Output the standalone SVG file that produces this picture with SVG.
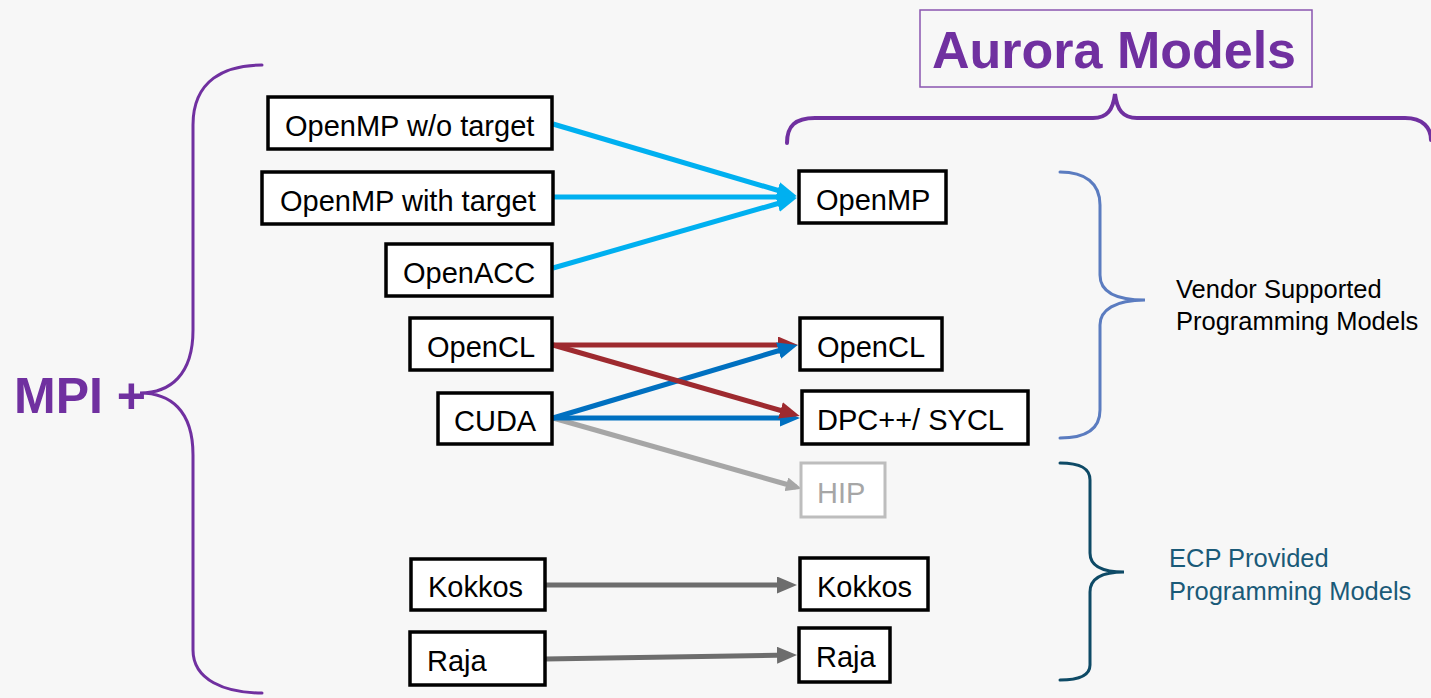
<svg xmlns="http://www.w3.org/2000/svg" width="1431" height="698" viewBox="0 0 1431 698">
<style>
.box{fill:#fff;stroke:#000;stroke-width:3.5}
.lbl{font-family:"Liberation Sans",Arial,sans-serif;font-size:29px;fill:#000}
.side{font-family:"Liberation Sans",Arial,sans-serif;font-size:25.5px}
.brace{fill:none;stroke-linecap:round}
.c{fill:none;stroke-width:5}
</style>
<defs>
<marker id="aLB" viewBox="0 0 20 17" markerUnits="userSpaceOnUse" markerWidth="20" markerHeight="17" refX="13" refY="8.5" orient="auto"><path d="M0,0 L20,8.5 L0,17 z" fill="#00b0f0"/></marker>
<marker id="aR" viewBox="0 0 20 17" markerUnits="userSpaceOnUse" markerWidth="20" markerHeight="17" refX="13" refY="8.5" orient="auto"><path d="M0,0 L20,8.5 L0,17 z" fill="#9e2a2f"/></marker>
<marker id="aB" viewBox="0 0 20 17" markerUnits="userSpaceOnUse" markerWidth="20" markerHeight="17" refX="13" refY="8.5" orient="auto"><path d="M0,0 L20,8.5 L0,17 z" fill="#0070c0"/></marker>
<marker id="aG" viewBox="0 0 16 14" markerUnits="userSpaceOnUse" markerWidth="16" markerHeight="14" refX="10" refY="7" orient="auto"><path d="M0,0 L16,7 L0,14 z" fill="#a6a6a6"/></marker>
<marker id="aD" viewBox="0 0 20 17" markerUnits="userSpaceOnUse" markerWidth="20" markerHeight="17" refX="13" refY="8.5" orient="auto"><path d="M0,0 L20,8.5 L0,17 z" fill="#6d6d6d"/></marker>
</defs>
<rect x="0" y="0" width="1431" height="698" fill="#f7f7f7"/>

<g id="mpi">
<text x="14" y="413" font-family="Liberation Sans,Arial,sans-serif" font-size="50" font-weight="bold" fill="#7030a0">MPI +</text>
<path class="brace" stroke="#7030a0" stroke-width="3" d="M262,65 C225,65 193,80 193,125 L193,330 C193,375 170,393 140,393 C170,393 193,410 193,455 L193,650 C193,680 225,693 262,693"/>
</g>

<g id="aurora">
<rect x="920" y="10" width="392" height="77" fill="none" stroke="#8a55b0" stroke-width="1.5"/>
<text x="1114" y="68" text-anchor="middle" font-family="Liberation Sans,Arial,sans-serif" font-size="52" font-weight="bold" fill="#7030a0">Aurora Models</text>
<path class="brace" stroke="#7030a0" stroke-width="4" d="M787,143 C787,126 795,118 815,118 L1093,118 C1107,118 1113,110 1115,94 C1117,110 1123,118 1137,118 L1405,118 C1423,118 1431,128 1431,140"/>
</g>

<g id="vendor">
<path class="brace" stroke="#5b7cc0" stroke-width="3" d="M1060,172 C1085,172 1100,183 1100,205 L1100,275 C1100,292 1115,300 1145,300 C1115,300 1100,310 1100,325 L1100,410 C1100,430 1085,438 1060,438"/>
<text class="side" fill="#000"><tspan x="1176" y="298">Vendor Supported</tspan><tspan x="1176" y="330">Programming Models</tspan></text>
</g>

<g id="ecp">
<path class="brace" stroke="#0e4a66" stroke-width="3" d="M1060,463 C1080,463 1090,468 1090,480 L1090,553 C1090,565 1100,572 1124,572 C1100,572 1090,580 1090,592 L1090,665 C1090,675 1080,680 1060,680"/>
<text class="side" fill="#1a5a78"><tspan x="1169" y="567">ECP Provided</tspan><tspan x="1169" y="600">Programming Models</tspan></text>
</g>

<g id="connectors">
<line class="c" stroke="#00b0f0" x1="553" y1="124" x2="790" y2="194" marker-end="url(#aLB)"/>
<line class="c" stroke="#00b0f0" x1="553" y1="197" x2="790" y2="197" marker-end="url(#aLB)"/>
<line class="c" stroke="#00b0f0" x1="553" y1="268" x2="790" y2="200" marker-end="url(#aLB)"/>
<line class="c" stroke="#a6a6a6" stroke-width="3" x1="553" y1="418" x2="796" y2="487" marker-end="url(#aG)"/>
<line class="c" stroke="#9e2a2f" x1="553" y1="345" x2="791" y2="345" marker-end="url(#aR)"/>
<line class="c" stroke="#0070c0" x1="553" y1="418" x2="791" y2="347" marker-end="url(#aB)"/>
<line class="c" stroke="#0070c0" x1="553" y1="418" x2="793" y2="418" marker-end="url(#aB)"/>
<line class="c" stroke="#9e2a2f" x1="553" y1="345" x2="793" y2="414" marker-end="url(#aR)"/>
<line class="c" stroke="#6d6d6d" x1="545" y1="585" x2="790" y2="585" marker-end="url(#aD)"/>
<line class="c" stroke="#6d6d6d" x1="545" y1="659" x2="790" y2="655" marker-end="url(#aD)"/>
</g>

<g id="n-omp-notarget"><rect class="box" x="268" y="97" width="284" height="52"/><text class="lbl" x="285" y="136">OpenMP w/o target</text></g>
<g id="n-omp-target"><rect class="box" x="262" y="172" width="291" height="52"/><text class="lbl" x="280" y="211">OpenMP with target</text></g>
<g id="n-openacc"><rect class="box" x="386" y="244" width="166" height="52"/><text class="lbl" x="403" y="283">OpenACC</text></g>
<g id="n-opencl-l"><rect class="box" x="410" y="318" width="142" height="52"/><text class="lbl" x="427" y="357">OpenCL</text></g>
<g id="n-cuda"><rect class="box" x="438" y="393" width="114" height="51"/><text class="lbl" x="454" y="431">CUDA</text></g>
<g id="n-kokkos-l"><rect class="box" x="411" y="559" width="134" height="51"/><text class="lbl" x="428" y="597">Kokkos</text></g>
<g id="n-raja-l"><rect class="box" x="410" y="632" width="135" height="53"/><text class="lbl" x="427" y="671">Raja</text></g>

<g id="n-openmp"><rect class="box" x="799" y="171" width="147" height="52"/><text class="lbl" x="816" y="210">OpenMP</text></g>
<g id="n-opencl-r"><rect class="box" x="800" y="318" width="142" height="52"/><text class="lbl" x="817" y="357">OpenCL</text></g>
<g id="n-dpcpp"><rect class="box" x="802" y="391" width="226" height="53"/><text class="lbl" x="817" y="430">DPC++/ SYCL</text></g>
<g id="n-hip"><rect x="801" y="463" width="84" height="54" fill="#fff" stroke="#bdbdbd" stroke-width="3"/><text class="lbl" x="817" y="503" style="fill:#a6a6a6">HIP</text></g>
<g id="n-kokkos-r"><rect class="box" x="800" y="558" width="128" height="52"/><text class="lbl" x="817" y="597">Kokkos</text></g>
<g id="n-raja-r"><rect class="box" x="799" y="628" width="91" height="54"/><text class="lbl" x="816" y="667">Raja</text></g>
</svg>
